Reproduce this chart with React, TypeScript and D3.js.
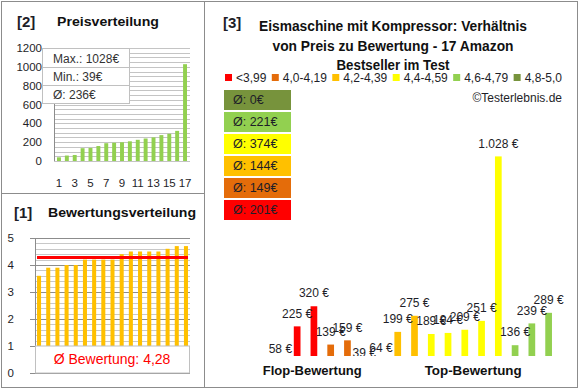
import * as d3 from 'd3'
import { useEffect, useRef } from 'react'

const width = 580
const height = 390
const font = '"Liberation Sans", Arial, sans-serif'
const ink = '#1e1e28'

// Rating classes and their colours (panel 3 legend)
const classLabels = ['<3,99', '4,0-4,19', '4,2-4,39', '4,4-4,59', '4,6-4,79', '4,8-5,0']
const classColors = ['#ff0000', '#e46c0a', '#ffc000', '#ffff00', '#92d050', '#77933c']

// 17 products, ordered by rating class
const productPrices = [58, 225, 320, 139, 159, 39, 64, 199, 275, 189, 194, 209, 251, 1028, 136, 239, 289]
const productClass = [0, 0, 0, 1, 1, 2, 2, 2, 2, 3, 3, 3, 3, 3, 4, 4, 4]
const productRatings = [3.6, 3.9, 3.9, 4.0, 4.0, 4.2, 4.2, 4.2, 4.2, 4.4, 4.5, 4.5, 4.5, 4.5, 4.6, 4.7, 4.7]
const ratingAverage = 4.28

const priceTicks = [0, 200, 400, 600, 800, 1000, 1200]
const ratingTicks = [0, 1, 2, 3, 4, 5]
const titleLines = ['Eismaschine mit Kompressor: Verhältnis', 'von Preis zu Bewertung - 17 Amazon', 'Bestseller im Test']
const titleWidths = [268, 241, 113]
const categoryLabels = ['Flop-Bewertung', 'Top-Bewertung']
const categoryAt = [1.9, 11.5]
const categoryWidths = [99, 97]

const de = d3.formatLocale({ decimal: ',', thousands: '.', grouping: [3], currency: ['', ' €'] })
const fmtPrice = de.format(',.0f')

export default function App() {
  const legendRef = useRef<SVGGElement>(null)

  const sortedPrices = [...productPrices].sort((a, b) => a - b)
  const idx = d3.range(productPrices.length)
  const classMeans = classLabels.map((_, c) => {
    const v = productPrices.filter((_, i) => productClass[i] === c)
    return v.length ? Math.round(d3.mean(v) as number) : 0
  })

  // panel 2 scales
  const x2 = d3.scaleBand<number>().domain(idx).range([54, 190]).paddingInner(0.5).paddingOuter(0.38)
  const y2 = d3.scaleLinear([0, 1200], [161, 48])
  // panel 1 scales
  const x1 = d3.scaleBand<number>().domain(idx).range([35, 190]).paddingInner(0.56).paddingOuter(0.22)
  const y1 = d3.scaleLinear([0, 5], [373, 238])
  // panel 3 scales
  const x3 = d3.scaleBand<number>().domain(idx).range([272, 557]).paddingInner(0.6).paddingOuter(0.3)
  const y3 = d3.scaleLinear([85, 1200], [356, 120])
  const x3c = (i: number) => (x3(0) as number) + x3.bandwidth() / 2 + i * x3.step()

  useEffect(() => {
    const g = d3.select(legendRef.current)
    g.selectAll('*').remove()
    const items = g
      .selectAll('g')
      .data(classLabels)
      .join('g')
    items
      .append('rect')
      .attr('width', 7)
      .attr('height', 7)
      .attr('y', -4)
      .attr('fill', (_, i) => classColors[i])
    items
      .append('text')
      .attr('x', 11)
      .attr('dy', '0.35em')
      .attr('font-size', 12)
      .attr('fill', ink)
      .text(d => d)
    const widths = items.nodes().map(n => 11 + (n.querySelector('text') as SVGTextElement).getComputedTextLength())
    const gap = (562 - 225 - d3.sum(widths)) / (widths.length - 1)
    let pos = 225
    items.attr('transform', (_, i) => {
      const t = `translate(${pos},78)`
      pos += widths[i] + gap
      return t
    })
  }, [])

  return (
    <svg
      width={width}
      height={height}
      viewBox={`0 0 ${width} ${height}`}
      style={{ position: 'absolute', left: 0, top: 0, background: '#fff' }}
      fontFamily={font}
    >
      <defs>
        <clipPath id="plot3">
          <rect x={260} y={110} width={305} height={246} />
        </clipPath>
      </defs>

      {/* frames */}
      <rect x={1.5} y={1.5} width={576} height={386} fill="none" stroke="#8c8c8c" />
      <line x1={204.5} x2={204.5} y1={1.5} y2={387.5} stroke="#8c8c8c" />
      <line x1={1.5} x2={204.5} y1={193.5} y2={193.5} stroke="#8c8c8c" />

      {/* [2] Preisverteilung */}
      <text x={17} y={27} fontSize={15} fontWeight="bold" fill={ink}>[2]</text>
      <text x={57} y={26} fontSize={12.5} fontWeight="bold" fill="#111" textLength={102} lengthAdjust="spacingAndGlyphs">Preisverteilung</text>
      {d3.range(0, 1201, 50).map(v => (
        <line key={v} x1={54} x2={190} y1={Math.round(y2(v)) + 0.5} y2={Math.round(y2(v)) + 0.5} stroke="#c4c4c4" />
      ))}
      <line x1={54.5} x2={54.5} y1={y2(1200)} y2={y2(0)} stroke="#8c8c8c" />
      {priceTicks.map(v => (
        <text key={v} x={42} y={y2(v)} dy="0.35em" textAnchor="end" fontSize={11.5} fill={ink}>{v}</text>
      ))}
      {sortedPrices.map((v, i) => (
        <rect key={i} x={x2(i)} y={y2(v)} width={x2.bandwidth()} height={y2(0) - y2(v)} fill="#92d050" />
      ))}
      {idx.filter(i => i % 2 === 0).map(i => (
        <text key={i} x={(x2(i) as number) + x2.bandwidth() / 2} y={183} dy="0.35em" textAnchor="middle" fontSize={11.5} fill={ink}>{i + 1}</text>
      ))}
      <g>
        <rect x={42.5} y={48.5} width={87} height={55} fill="#fff" stroke="#c0c0c0" />
        <line x1={42.5} x2={129.5} y1={67.5} y2={67.5} stroke="#c0c0c0" />
        <line x1={42.5} x2={129.5} y1={85.5} y2={85.5} stroke="#c0c0c0" />
        <text x={53} y={59} dy="0.35em" fontSize={12} fill="#333">Max.: {d3.max(sortedPrices)}€</text>
        <text x={53} y={77} dy="0.35em" fontSize={12} fill="#333">Min.: {d3.min(sortedPrices)}€</text>
        <text x={53} y={95} dy="0.35em" fontSize={12} fill="#333">Ø: {Math.round(d3.mean(sortedPrices) as number)}€</text>
      </g>

      {/* [1] Bewertungsverteilung */}
      <text x={14} y={218} fontSize={15} fontWeight="bold" fill={ink}>[1]</text>
      <text x={48} y={217} fontSize={12.5} fontWeight="bold" fill="#111" textLength={148} lengthAdjust="spacingAndGlyphs">Bewertungsverteilung</text>
      {d3.range(0, 5.01, 0.2).map(v => {
        const major = Math.abs(v - Math.round(v)) < 1e-6
        const yy = Math.round(y1(v)) + 0.5
        return (
          <line key={v.toFixed(1)} x1={major ? 30 : 35} x2={190} y1={yy} y2={yy} stroke={major ? '#8c8c8c' : '#c8c8c8'} />
        )
      })}
      <line x1={35.5} x2={35.5} y1={y1(5)} y2={y1(0)} stroke="#8c8c8c" />
      {ratingTicks.map(v => (
        <text key={v} x={14} y={y1(v)} dy="0.35em" textAnchor="end" fontSize={11.5} fill={ink}>{v}</text>
      ))}
      {productRatings.map((v, i) => (
        <rect key={i} x={x1(i)} y={y1(v)} width={x1.bandwidth()} height={y1(0) - y1(v)} fill="#ffc000" />
      ))}
      <line x1={x1(0)} x2={(x1(16) as number) + x1.bandwidth()} y1={y1(ratingAverage)} y2={y1(ratingAverage)} stroke="#ff0000" strokeWidth={3} />
      <rect x={35.5} y={y1(1)} width={154} height={y1(0) - y1(1)} fill="#fff" stroke="#c0c0c0" />
      <text x={112} y={(y1(1) + y1(0.05)) / 2} dy="0.35em" textAnchor="middle" fontSize={14} fill="#ff0000">
        Ø Bewertung: {ratingAverage.toFixed(2).replace('.', ',')}
      </text>

      {/* [3] Preis zu Bewertung */}
      <text x={223} y={28} fontSize={15} fontWeight="bold" fill={ink}>[3]</text>
      {titleLines.map((t, i) => (
        <text
          key={i}
          x={393}
          y={31 + i * 19.5}
          textAnchor="middle"
          fontSize={14}
          fontWeight="bold"
          fill="#111"
          textLength={titleWidths[i]}
          lengthAdjust="spacingAndGlyphs"
        >
          {t}
        </text>
      ))}
      <g ref={legendRef} fontFamily={font} />
      <text x={562} y={98} dy="0.35em" textAnchor="end" fontSize={12} fill={ink}>©Testerlebnis.de</text>
      {classMeans
        .map((m, c) => ({ m, c }))
        .reverse()
        .map(({ m, c }, k) => (
          <g key={c} transform={`translate(224,${90 + k * 22})`}>
            <rect width={67} height={20} fill={classColors[c]} />
            <text x={9} y={10} dy="0.35em" fontSize={12.5} fill={ink}>Ø: {m}€</text>
          </g>
        ))}
      {productPrices.map((v, i) => (
        <rect
          key={i}
          x={x3(i)}
          y={y3(Math.max(v, 85))}
          width={x3.bandwidth()}
          height={y3(85) - y3(Math.max(v, 85))}
          fill={classColors[productClass[i]]}
        />
      ))}
      <g clipPath="url(#plot3)">
        {productPrices.map((v, i) => (
          <text key={i} x={x3c(i)} y={y3(v) - 13} dy="0.35em" textAnchor="middle" fontSize={12} fill={ink}>
            {fmtPrice(v)} €
          </text>
        ))}
      </g>
      {categoryLabels.map((t, i) => (
        <text
          key={t}
          x={x3c(categoryAt[i])}
          y={370}
          dy="0.35em"
          textAnchor="middle"
          fontSize={13.5}
          fontWeight="bold"
          fill="#111"
          textLength={categoryWidths[i]}
          lengthAdjust="spacingAndGlyphs"
        >
          {t}
        </text>
      ))}
    </svg>
  )
}
